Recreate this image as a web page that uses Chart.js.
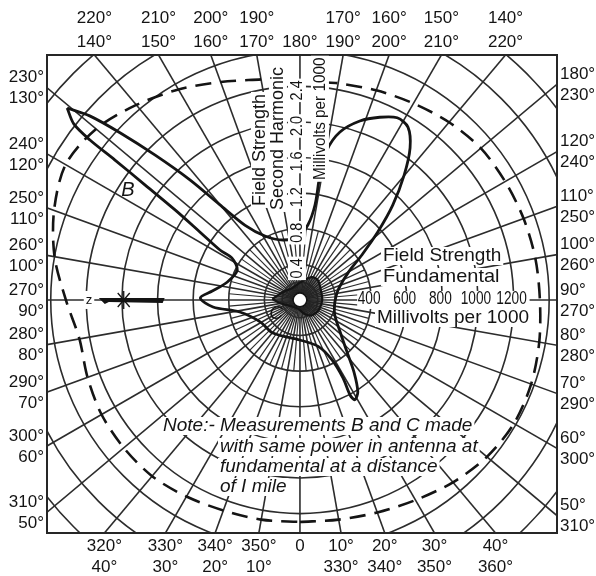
<!DOCTYPE html>
<html>
<head>
<meta charset="utf-8">
<script src="https://cdn.jsdelivr.net/npm/chart.js@4.4.1/dist/chart.umd.min.js"></script>
<style>
  html, body { margin: 0; padding: 0; background: #fff; }
  #wrap { width: 596px; height: 576px; }
</style>
</head>
<body>
<div id="wrap"><canvas id="polarChart" width="596" height="576"></canvas></div>
<script>
// Curve B: bearing (deg, 0 at bottom, counter-clockwise) and second harmonic field strength
const bAngles = [230.5, 232.1, 232.7, 232.9, 233.4, 234.2, 235.8, 238.0, 238.3, 244.5, 256.1, 264.2,
  268.9, 274.6, 281.3, 298.8, 320.7, 0, 21.4, 28.1, 28.9, 27.8, 28.8, 32.2, 36.9, 42.1, 51.3, 70.6,
  102.2, 119.4, 126.0, 131.1, 135.6, 140.2, 144.1, 148.0, 151.9, 156.4, 161.5, 166.6, 169.8, 170.9,
  171.0, 173.9, 181.8, 195.8, 208.7, 216.3, 220.1, 222.5, 225.0, 227.1, 228.8, 230.5];
const bValues = [3.39, 3.22, 2.97, 2.61, 2.17, 1.73, 1.36, 1.06, 0.90, 0.78, 0.84, 0.99,
  1.12, 0.98, 0.69, 0.51, 0.48, 0.45, 0.56, 0.76, 1.00, 1.21, 1.28, 1.22, 1.01, 0.79, 0.58, 0.41,
  0.43, 0.62, 0.86, 1.16, 1.49, 1.83, 2.11, 2.29, 2.32, 2.24, 2.12, 1.94, 1.71, 1.42,
  1.08, 0.85, 0.71, 0.70, 0.82, 1.04, 1.40, 1.83, 2.30, 2.76, 3.14, 3.39];

// Curve C (small shaded pattern round the station)
const cAngles = [268.0, 244.8, 213.7, 171.0, 152.4, 138.0, 115.5, 90.0, 64.7, 38.7, 19.7, 347.5, 301.0, 278.5, 268.0];
const cValues = [0.31, 0.21, 0.16, 0.22, 0.29, 0.30, 0.26, 0.25, 0.24, 0.22, 0.17, 0.10, 0.13, 0.23, 0.31];

// Fundamental (dashed), millivolts per 1000, broken near 180 for the scale text
const fundAngles = [0, 10, 20, 30, 40, 50, 60, 70, 80, 90, 100, 110, 120, 130, 140, 150, 160, 170, 174, 180,
  190, 200, 210, 220, 230, 240, 250, 260, 270, 280, 290, 300, 310, 320, 330, 340, 350, 360];
const fundValues = [1247, 1253, 1270, 1298, 1337, 1371, 1388, 1382, 1365, 1348, 1343, 1337, 1331, 1326, 1303,
  1275, 1253, 1236, 1230, null, 1258, 1303, 1365, 1430, 1495, 1520, 1470, 1400, 1315, 1258, 1270, 1287, 1292,
  1292, 1275, 1258, 1253, 1247];

// Grid rings (fundamental scale) and scale labels
const ringValues = [100, 200, 400, 600, 800, 1000, 1200, 1400, 1600, 1800, 2000];
const fundTicks = [400, 600, 800, 1000, 1200];
const harmTicks = [0.4, 0.8, 1.2, 1.6, 2.0, 2.4];

// Bearing labels round the frame (two scales)
const topAngles = [220, 210, 200, 190, 180, 170, 160, 150, 140];
const topRow1 = ['220°', '210°', '200°', '190°', '', '170°', '160°', '150°', '140°'];
const topRow2 = ['140°', '150°', '160°', '170°', '180°', '190°', '200°', '210°', '220°'];
const bottomAngles = [320, 330, 340, 350, 0, 10, 20, 30, 40];
const bottomRow1 = ['320°', '330°', '340°', '350°', '0', '10°', '20°', '30°', '40°'];
const bottomRow2 = ['40°', '30°', '20°', '10°', '', '330°', '340°', '350°', '360°'];
const leftAngles = [230, 240, 250, 260, 270, 280, 290, 300, 310];
const leftUpper = ['230°', '240°', '250°', '260°', '270°', '280°', '290°', '300°', '310°'];
const leftLower = ['130°', '120°', '110°', '100°', '90°', '80°', '70°', '60°', '50°'];
const rightAngles = [130, 120, 110, 100, 90, 80, 70, 60, 50];
const rightUpper = ['180°', '120°', '110°', '100°', '90°', '80°', '70°', '60°', '50°'];
const rightLower = ['230°', '240°', '250°', '260°', '270°', '280°', '290°', '300°', '310°'];

const HARM = 500;          // 0.4 on the harmonic scale sits on the 200 ring
const INK = '#141414';
const GRID = '#2c2c2c';
const FONT = "'Liberation Sans', 'DejaVu Sans', sans-serif";

const rad = d => d * Math.PI / 180;
function toXY(deg, v) {
    if (v === null) return { x: null, y: null };
    return { x: v * Math.sin(rad(deg)), y: -v * Math.cos(rad(deg)) };
}

const bPoints = bAngles.map((a, i) => toXY(a, bValues[i] * HARM));
const cPoints = cAngles.map((a, i) => toXY(a, cValues[i] * HARM));
const fundPoints = fundAngles.map((a, i) => toXY(a, fundValues[i]));

// where a bearing line meets the frame
function edgePoint(cx, cy, area, deg) {
    const s = Math.sin(rad(deg)), c = Math.cos(rad(deg));
    let t = Infinity;
    if (s > 1e-9) t = Math.min(t, (area.right - cx) / s);
    if (s < -1e-9) t = Math.min(t, (area.left - cx) / s);
    if (c > 1e-9) t = Math.min(t, (area.bottom - cy) / c);
    if (c < -1e-9) t = Math.min(t, (area.top - cy) / c);
    return { x: cx + s * t, y: cy + c * t };
}

// lettering helper, sx squeezes or widens the glyphs
function text(ctx, str, x, y, align, font, bg, sx) {
    sx = sx || 1;
    ctx.save();
    ctx.translate(x, y);
    ctx.scale(sx, 1);
    ctx.font = font;
    ctx.textAlign = align;
    ctx.textBaseline = 'middle';
    if (bg) {
        const w = ctx.measureText(str).width;
        const x0 = align === 'left' ? 0 : align === 'right' ? -w : -w / 2;
        ctx.fillStyle = '#fff';
        ctx.fillRect(x0 - 2, -9, w + 4, 18);
    }
    ctx.fillStyle = INK;
    ctx.fillText(str, 0, 0);
    ctx.restore();
}

const polarGrid = {
    id: 'polarGrid',
    beforeDatasetsDraw(chart) {
        const { ctx, chartArea: a, scales: { x, y } } = chart;
        const cx = x.getPixelForValue(0), cy = y.getPixelForValue(0);
        const px = v => x.getPixelForValue(v) - cx;
        ctx.save();
        ctx.beginPath();
        ctx.rect(a.left, a.top, a.right - a.left, a.bottom - a.top);
        ctx.clip();
        ctx.strokeStyle = GRID;
        ctx.lineWidth = 1.6;
        ringValues.forEach(v => {
            ctx.beginPath();
            ctx.arc(cx, cy, px(v), 0, Math.PI * 2);
            ctx.stroke();
        });
        // bearing lines: every 10 deg to the frame, every 5 deg near the centre
        for (let d = 0; d < 360; d += 5) {
            const r0 = px(45);
            const r1 = d % 10 === 0 ? px(4000) : px(400);
            const s = Math.sin(rad(d)), c = Math.cos(rad(d));
            ctx.lineWidth = d % 10 === 0 ? 1.6 : 1.2;
            ctx.beginPath();
            ctx.moveTo(cx + s * r0, cy + c * r0);
            ctx.lineTo(cx + s * r1, cy + c * r1);
            ctx.stroke();
        }
        ctx.restore();
    },
    afterDatasetsDraw(chart) {
        const { ctx, chartArea: a, scales: { x, y } } = chart;
        const cx = x.getPixelForValue(0), cy = y.getPixelForValue(0);
        const px = v => x.getPixelForValue(v) - cx;
        ctx.save();
        // station
        ctx.beginPath();
        ctx.arc(cx, cy, px(40), 0, Math.PI * 2);
        ctx.fillStyle = '#fff';
        ctx.fill();
        ctx.lineWidth = 2;
        ctx.strokeStyle = INK;
        ctx.stroke();

        // pointer along 270
        const p1 = px(1130), p2 = px(760);
        ctx.fillStyle = INK;
        ctx.beginPath();
        ctx.moveTo(cx - p1, cy - 2);
        ctx.lineTo(cx - p2, cy - 2);
        ctx.lineTo(cx - p2 - 2, cy + 3);
        ctx.lineTo(cx - p1 + 10, cy + 2);
        ctx.lineTo(cx - p1 + 6, cy + 4);
        ctx.closePath();
        ctx.fill();
        ctx.lineWidth = 1.3;
        const sx = cx - px(990);
        ctx.beginPath();
        ctx.moveTo(sx - 6, cy - 7); ctx.lineTo(sx + 6, cy + 7);
        ctx.moveTo(sx - 6, cy + 7); ctx.lineTo(sx + 6, cy - 7);
        ctx.moveTo(sx, cy - 9); ctx.lineTo(sx, cy + 9);
        ctx.stroke();
        text(ctx, 'z', cx - px(1185), cy, 'center', '13px ' + FONT, true);

        // frame
        ctx.lineWidth = 2;
        ctx.strokeStyle = '#262626';
        ctx.strokeRect(a.left, a.top, a.right - a.left, a.bottom - a.top);
        ctx.restore();
    },
    afterDraw(chart) {
        const { ctx, chartArea: a, scales: { x, y } } = chart;
        const cx = x.getPixelForValue(0), cy = y.getPixelForValue(0);
        const px = v => x.getPixelForValue(v) - cx;
        const f = '17px ' + FONT;
        ctx.save();

        topAngles.forEach((d, i) => {
            const e = edgePoint(cx, cy, a, d);
            text(ctx, topRow1[i], e.x, a.top - 37, 'center', f);
            text(ctx, topRow2[i], e.x, a.top - 13, 'center', f);
        });
        bottomAngles.forEach((d, i) => {
            const e = edgePoint(cx, cy, a, d);
            text(ctx, bottomRow1[i], e.x, a.bottom + 13, 'center', f);
            text(ctx, bottomRow2[i], e.x, a.bottom + 34, 'center', f);
        });
        leftAngles.forEach((d, i) => {
            const e = edgePoint(cx, cy, a, d);
            text(ctx, leftUpper[i], a.left - 3, e.y - 10, 'right', f);
            text(ctx, leftLower[i], a.left - 3, e.y + 11, 'right', f);
        });
        rightAngles.forEach((d, i) => {
            const e = edgePoint(cx, cy, a, d);
            text(ctx, rightUpper[i], a.right + 3, e.y - 10, 'left', f);
            text(ctx, rightLower[i], a.right + 3, e.y + 11, 'left', f);
        });

        // fundamental scale
        const g = '19px ' + FONT;
        text(ctx, 'Field Strength', 383, 256, 'left', g, true);
        text(ctx, 'Fundamental', 383, 277, 'left', g, true, 1.05);
        const first = cx + px(fundTicks[0]) - 14, last = cx + px(fundTicks[fundTicks.length - 1]) + 16;
        ctx.fillStyle = '#fff';
        ctx.fillRect(first, cy - 9, last - first, 18);
        fundTicks.forEach(v => text(ctx, String(v), cx + px(v) - 2, cy - 1, 'center', '18px ' + FONT, false, 0.76));
        text(ctx, 'Millivolts per 1000', 377, 318, 'left', g, true);

        // second harmonic scale, read up the 180 line
        ctx.save();
        ctx.translate(cx, cy);
        ctx.rotate(-Math.PI / 2);
        const h = '18px ' + FONT;
        text(ctx, 'Field Strength', 94, -40, 'left', h, true);
        text(ctx, 'Second Harmonic', 90, -22, 'left', h, true);
        harmTicks.forEach(v => {
            text(ctx, v.toFixed(1), px(v * HARM) - 4, -3, 'center', '17px ' + FONT, true, 0.85);
        });
        text(ctx, 'Millivolts per 1000', 120, 20, 'left', '17px ' + FONT, true, 0.9);
        ctx.restore();

        // curve letters and note
        const it = 'italic 19px ' + FONT;
        text(ctx, 'B', 128, 190, 'center', 'italic 20px ' + FONT);
        text(ctx, 'C', 276, 314, 'center', it);
        text(ctx, 'Note:- Measurements B and C made', 163, 426, 'left', it, true);
        text(ctx, 'with same power in antenna at', 220, 447, 'left', it, true);
        text(ctx, 'fundamental at a distance', 220, 467, 'left', it, true);
        text(ctx, 'of I mile', 220, 487, 'left', it, true);
        ctx.restore();
    }
};

new Chart(document.getElementById('polarChart'), {
    type: 'scatter',
    data: {
        datasets: [
            {
                label: 'Fundamental',
                data: fundPoints,
                showLine: true,
                spanGaps: false,
                borderColor: INK,
                borderWidth: 2.6,
                borderDash: [16, 9],
                tension: 0.3,
                pointRadius: 0
            },
            {
                label: 'B',
                data: bPoints,
                showLine: true,
                borderColor: INK,
                borderWidth: 2.8,
                tension: 0.3,
                pointRadius: 0
            },
            {
                label: 'C',
                data: cPoints,
                showLine: true,
                borderColor: INK,
                borderWidth: 2.2,
                backgroundColor: 'rgba(30,30,30,0.6)',
                fill: 'shape',
                tension: 0.3,
                pointRadius: 0
            }
        ]
    },
    options: {
        responsive: false,
        animation: false,
        devicePixelRatio: 1,
        layout: { padding: { left: 47, right: 39, top: 55, bottom: 43 } },
        plugins: { legend: { display: false }, tooltip: { enabled: false } },
        scales: {
            x: { type: 'linear', display: false, min: -1421, max: 1444 },
            y: { type: 'linear', display: false, min: -1309, max: 1376 }
        }
    },
    plugins: [polarGrid]
});
</script>
</body>
</html>
